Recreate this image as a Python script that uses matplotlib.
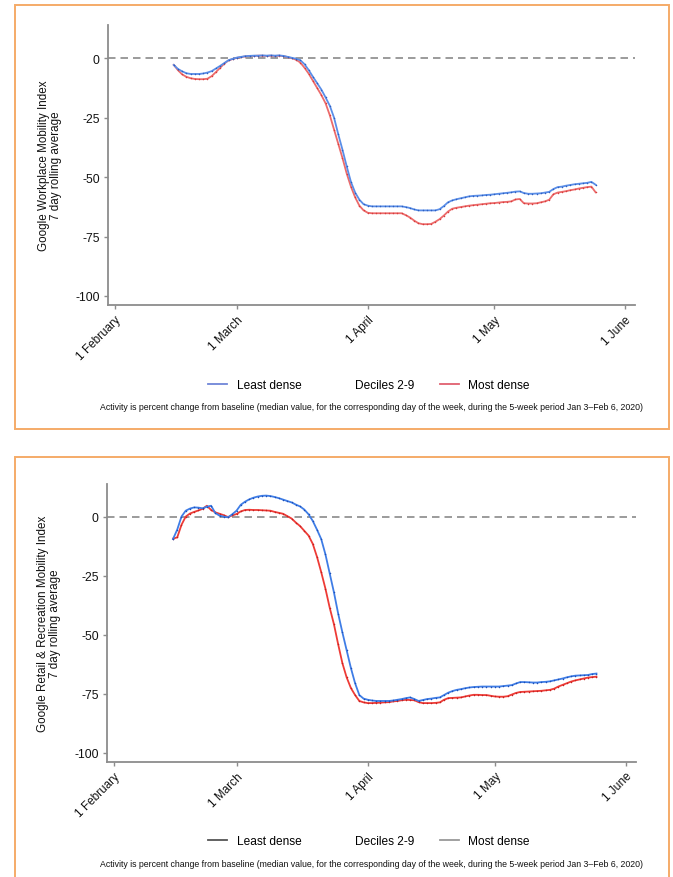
import pandas as pd
import matplotlib
matplotlib.use('Agg')
import matplotlib.pyplot as plt
from matplotlib.lines import Line2D
from matplotlib.patches import Rectangle

plt.rcParams['font.family'] = ['Liberation Sans', 'DejaVu Sans']

# daily 7-day rolling averages, 15 Feb - 25 May 2020
dates = pd.date_range('2020-02-15', '2020-05-25', freq='D')

work_least = [-2.8, -4.5, -5.5, -6.3, -6.6, -6.6, -6.6, -6.4, -6.0, -5.4,
              -4.3, -3.2, -2.0, -0.8, -0.2, 0.3, 0.6, 0.9, 1.0, 1.1,
              1.1, 1.2, 1.1, 1.2, 1.1, 1.2, 1.0, 0.6, 0.2, -0.2,
              -0.8, -2.5, -5.0, -7.8, -10.5, -13.2, -16.5, -20.0, -25.0, -32.0,
              -38.5, -45.5, -52.0, -56.5, -59.5, -61.4, -62.0, -62.3, -62.3, -62.3,
              -62.3, -62.3, -62.3, -62.3, -62.3, -62.6, -63.0, -63.6, -64.0, -64.0,
              -64.0, -64.0, -64.0, -63.5, -62.2, -60.6, -59.8, -59.3, -58.9, -58.5,
              -58.1, -57.9, -57.8, -57.7, -57.5, -57.4, -57.2, -57.0, -56.8, -56.6,
              -56.4, -56.1, -56.0, -56.7, -57.0, -57.0, -56.9, -56.8, -56.5, -56.2,
              -55.0, -54.2, -54.0, -53.6, -53.3, -53.0, -52.8, -52.6, -52.4, -52.0, -53.2]
work_most = [-2.8, -5.0, -6.8, -7.8, -8.4, -8.7, -8.8, -8.8, -8.6, -7.5,
             -5.8, -4.0, -2.2, -0.9, -0.3, 0.2, 0.5, 0.8, 1.0, 1.0,
             1.1, 1.1, 1.0, 1.1, 1.0, 1.1, 0.9, 0.5, 0.0, -0.6,
             -1.8, -4.0, -6.5, -9.5, -12.5, -15.5, -19.0, -24.0, -30.0, -36.0,
             -42.0, -48.5, -54.0, -58.5, -62.0, -64.0, -65.0, -65.2, -65.2, -65.2,
             -65.2, -65.2, -65.2, -65.2, -65.2, -66.0, -67.0, -68.3, -69.4, -69.8,
             -69.8, -69.7, -68.8, -67.7, -66.2, -64.5, -63.3, -62.9, -62.6, -62.3,
             -62.0, -61.8, -61.6, -61.4, -61.2, -61.0, -60.9, -60.7, -60.5, -60.4,
             -60.2, -59.4, -59.2, -61.0, -61.1, -61.1, -61.0, -60.6, -60.2, -59.5,
             -57.2, -56.5, -56.2, -55.9, -55.5, -55.2, -54.8, -54.5, -54.2, -54.0, -56.4]

retail_least = [-9.5, -5.5, 0.0, 2.5, 3.4, 3.9, 3.8, 3.5, 4.2, 4.6,
                1.5, 0.4, 0.0, -0.3, 1.0, 2.5, 5.0, 6.3, 7.3, 8.0,
                8.5, 8.8, 8.9, 8.7, 8.3, 7.8, 7.2, 6.6, 6.0, 5.1,
                4.3, 3.0, 1.0, -1.8, -5.5, -9.5, -16.0, -24.0, -32.0, -41.0,
                -49.0, -56.5, -64.0, -70.5, -75.5, -77.0, -77.5, -77.8, -78.0, -78.0,
                -78.0, -78.0, -77.8, -77.5, -77.2, -76.8, -76.5, -77.2, -78.0, -77.6,
                -77.2, -77.0, -76.7, -76.5, -75.5, -74.5, -73.8, -73.3, -73.0, -72.6,
                -72.3, -72.1, -72.0, -71.9, -71.9, -71.9, -71.9, -71.9, -71.7, -71.5,
                -71.3, -70.6, -70.0, -70.0, -70.1, -70.2, -70.2, -70.0, -69.9, -69.7,
                -69.3, -68.9, -68.5, -68.0, -67.6, -67.3, -67.2, -67.1, -67.0, -66.6, -66.4]
retail_most = [-9.3, -8.8, -3.5, 0.0, 1.3, 2.0, 2.6, 3.3, 4.6, 2.8,
               1.8, 1.2, 0.6, -0.2, 0.5, 1.1, 2.2, 2.8, 2.9, 2.8,
               2.8, 2.7, 2.6, 2.5, 2.0, 1.6, 1.2, 0.2, -0.8, -2.5,
               -4.0, -6.0, -8.0, -11.5, -17.0, -23.5, -30.5, -38.5, -45.5, -54.0,
               -62.0, -68.0, -72.5, -75.5, -78.0, -78.6, -78.9, -78.9, -78.8, -78.7,
               -78.6, -78.5, -78.2, -78.0, -77.7, -77.5, -77.6, -77.7, -78.5, -78.9,
               -78.9, -78.9, -78.8, -78.6, -77.5, -76.8, -76.7, -76.6, -76.5, -76.1,
               -75.7, -75.4, -75.4, -75.5, -75.5, -75.8, -76.1, -76.2, -76.2, -76.0,
               -75.3, -74.6, -74.2, -74.1, -74.0, -73.9, -73.8, -73.7, -73.5, -73.3,
               -72.8, -71.9, -71.2, -70.5, -69.8, -69.3, -68.9, -68.5, -68.1, -67.9, -67.7]

tick_dates = pd.to_datetime(['2020-02-01', '2020-03-01', '2020-04-01', '2020-05-01', '2020-06-01'])
tick_labels = ['1 February', '1 March', '1 April', '1 May', '1 June']
y_ticks = [0, -25, -50, -75, -100]
legend_labels = ['Least dense', 'Deciles 2-9', 'Most dense']
footnote = ('Activity is percent change from baseline (median value, for the corresponding '
            'day of the week, during the 5-week period Jan 3\u2013Feb 6, 2020)')

W, H = 673, 878
fig = plt.figure(figsize=(W / 100, H / 100), dpi=100)

# orange frames round each panel
fig.patches.append(Rectangle((15 / W, 1 - 430 / H), 654 / W, 424 / H, transform=fig.transFigure,
                             fill=False, ec='#f5ab68', lw=1.4))
fig.patches.append(Rectangle((15 / W, -0.02), 654 / W, 0.02 + 1 - 458 / H, transform=fig.transFigure,
                             fill=False, ec='#f5ab68', lw=1.4))


def panel(rect, least, most, ylabel, c_least, c_most, ylim, leg_y, note_y, leg_cols):
    ax = fig.add_axes(rect)
    ax.axhline(0, color='#8a8a8a', lw=1.2, ls=(0, (4.5, 3)), zorder=1)
    ax.plot(dates, least, color=c_least[0], lw=1.3, marker='.', ms=2.2, mew=0,
            mfc=c_least[1], zorder=3)
    ax.plot(dates, most, color=c_most[0], lw=1.3, marker='.', ms=2.2, mew=0,
            mfc=c_most[1], zorder=2)
    ax.set_xlim(pd.Timestamp('2020-01-30 10:00'), pd.Timestamp('2020-06-03 08:00'))
    ax.set_ylim(*ylim)
    ax.set_yticks(y_ticks)
    ax.set_yticklabels([str(v) for v in y_ticks], fontsize=8.7, color='#111111')
    ax.set_xticks(tick_dates)
    ax.set_xticklabels(tick_labels, rotation=45, ha='right', va='top',
                       rotation_mode='anchor', fontsize=8.5, color='#111111')
    ax.tick_params(axis='both', length=3, width=1, color='#8c8c8c', pad=3)
    for s in ['top', 'right']:
        ax.spines[s].set_visible(False)
    for s in ['left', 'bottom']:
        ax.spines[s].set_color('#8c8c8c')
        ax.spines[s].set_linewidth(1.3)
    ax.set_ylabel(ylabel, fontsize=8.4, linespacing=1.0, color='#111111')
    ax.yaxis.set_label_coords(-0.087, 0.5)

    handles = [Line2D([], [], color=leg_cols[0], lw=1.3),
               Line2D([], [], color='none', lw=1.3),
               Line2D([], [], color=leg_cols[1], lw=1.3)]
    fig.legend(handles, legend_labels, loc='center', bbox_to_anchor=(369 / W, 1 - leg_y / H),
               ncol=3, frameon=False, fontsize=8.6, handlelength=1.6, handletextpad=0.8,
               columnspacing=2.1, borderaxespad=0, borderpad=0)
    fig.text(371 / W, 1 - note_y / H, footnote, ha='center', va='center', fontsize=6.3,
             color='#111111')
    return ax


panel([108 / W, 1 - 306 / H, 527 / W, 280 / H], work_least, work_most,
      'Google Workplace Mobility Index\n7 day rolling average',
      ('#5a8ee8', '#2f5fc0'), ('#ec6b6b', '#d83c3c'), (-103.8, 14.0), 386, 408,
      ('#6f86d8', '#e06070'))

panel([107 / W, 1 - 762.7 / H, 529 / W, 277.7 / H], retail_least, retail_most,
      'Google Retail & Recreation Mobility Index\n7 day rolling average',
      ('#3f7de6', '#1d4fb8'), ('#ee3b36', '#c42020'), (-103.7, 13.8), 842, 865,
      ('#555555', '#999999'))

fig.savefig('out.png', dpi=100)
